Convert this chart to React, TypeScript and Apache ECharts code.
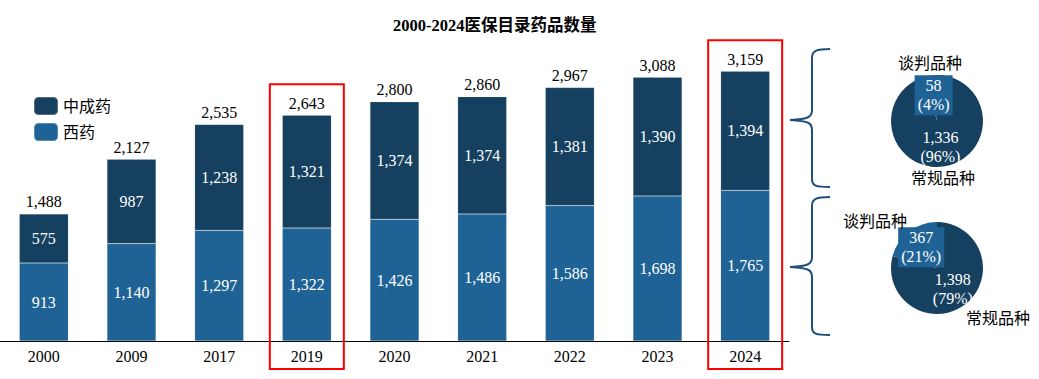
import React, { useEffect, useRef } from "react";
import * as echarts from "echarts";

const years = ["2000", "2009", "2017", "2019", "2020", "2021", "2022", "2023", "2024"];
const westernDrugs = [913, 1140, 1297, 1322, 1426, 1486, 1586, 1698, 1765];
const chineseDrugs = [575, 987, 1238, 1321, 1374, 1374, 1381, 1390, 1394];
const totals = [1488, 2127, 2535, 2643, 2800, 2860, 2967, 3088, 3159];
const pie2019 = [
  { name: "常规品种", value: 1336, pct: "96%" },
  { name: "谈判品种", value: 58, pct: "4%" },
];
const pie2024 = [
  { name: "常规品种", value: 1398, pct: "79%" },
  { name: "谈判品种", value: 367, pct: "21%" },
];
const highlightYears = ["2019", "2024"];

const DARK = "#16405F";
const BLUE = "#1F6396";
const SERIF = "'Liberation Serif', 'Noto Sans CJK SC', serif";
const FS = 16;

const fmt = (v: number) => v.toLocaleString("en-US");

echarts.graphic.registerShape(
  "braceTop",
  echarts.graphic.extendPath(
    "M830,49 C816,49 812,51 812,58 L812,110 C812,117 809,119 790,120 C809,121 812,123 812,130 L812,179 C812,186 816,187 830,187",
    {}
  )
);
echarts.graphic.registerShape(
  "braceBottom",
  echarts.graphic.extendPath(
    "M830,197 C816,197 812,199 812,206 L812,257 C812,264 809,266 790,267 C809,268 812,270 812,277 L812,327 C812,334 816,335 830,335",
    {}
  )
);

export default function App() {
  const ref = useRef<HTMLDivElement>(null);
  useEffect(() => {
    if (!ref.current) return;
    const chart = echarts.init(ref.current, undefined, { renderer: "svg" });
    const pieLabel = {
      show: true,
      position: "inside",
      fontFamily: SERIF,
      fontSize: FS,
      lineHeight: 19,
      color: "#fff",
      formatter: (p: any) => `${fmt(p.value)}\n(${p.data.pct})`,
    };
    const pieData = (arr: any[]) =>
      arr.map((d, i) => ({
        ...d,
        itemStyle: { color: i === 0 ? DARK : BLUE },
        label: i === 1 ? { backgroundColor: BLUE, padding: [1, 3] } : {},
      }));
    const barLabel = { show: true, position: "inside", color: "#fff", fontFamily: SERIF, fontSize: FS, formatter: (p: any) => fmt(p.value) };
    chart.setOption({
      animation: false,
      backgroundColor: "#fff",
      title: {
        text: "2000-2024医保目录药品数量",
        left: 388,
        top: 12,
        textStyle: { fontFamily: SERIF, fontSize: 16.5, fontWeight: "bold", color: "#000" },
      },
      legend: {
        orient: "vertical",
        left: 28,
        top: 91,
        itemWidth: 24,
        itemHeight: 18,
        itemGap: 6,
        data: ["中成药", "西药"],
        textStyle: { fontFamily: SERIF, fontSize: FS, color: "#000" },
      },
      grid: { left: -1, width: 790, top: 42, bottom: 38 },
      xAxis: {
        type: "category",
        data: years,
        axisLine: { lineStyle: { color: "#000", width: 1 } },
        axisTick: { show: false },
        axisLabel: { fontFamily: SERIF, fontSize: FS, color: "#000", margin: 7 },
      },
      yAxis: { type: "value", min: 0, max: 3500, show: false, splitLine: { show: false } },
      series: [
        {
          name: "西药",
          type: "bar",
          stack: "t",
          barWidth: 49,
          data: westernDrugs,
          itemStyle: { color: BLUE, borderColor: "rgba(255,255,255,0.25)", borderWidth: 0.5 },
          label: barLabel,
        },
        {
          name: "中成药",
          type: "bar",
          stack: "t",
          barWidth: 49,
          data: chineseDrugs,
          itemStyle: { color: DARK, borderColor: "rgba(255,255,255,0.25)", borderWidth: 0.5 },
          label: barLabel,
        },
        {
          name: "合计",
          type: "bar",
          barWidth: 49,
          barGap: "-100%",
          data: totals,
          z: 0,
          itemStyle: { color: "rgba(0,0,0,0)" },
          label: { show: true, position: "top", distance: 4, color: "#000", fontFamily: SERIF, fontSize: FS, formatter: (p: any) => fmt(p.value) },
          silent: true,
        },
        {
          type: "pie",
          center: [937, 121],
          radius: 46,
          startAngle: 90,
          data: pieData(pie2019),
          label: pieLabel,
          labelLine: { show: false },
          itemStyle: { borderWidth: 0 },
        },
        {
          type: "pie",
          center: [937, 268],
          radius: 46,
          startAngle: 90,
          data: pieData(pie2024),
          label: pieLabel,
          labelLine: { show: false },
          itemStyle: { borderWidth: 0 },
        },
      ],
    });
    const rects = highlightYears.map((y) => {
      const cx = chart.convertToPixel({ xAxisIndex: 0 }, y) as number;
      const idx = years.indexOf(y);
      const topY = (chart.convertToPixel({ yAxisIndex: 0 }, totals[idx]) as number) - 31;
      return {
        type: "rect",
        shape: { x: cx - 37, y: topY, width: 74, height: 369 - topY },
        style: { fill: "none", stroke: "#FF0000", lineWidth: 2 },
        z: 100,
      };
    });
    const txt = (text: string, x: number, y: number) => ({
      type: "text",
      x,
      y,
      style: { text, fontFamily: SERIF, fontSize: FS, fill: "#000", align: "center", verticalAlign: "middle" },
      z: 100,
    });
    chart.setOption({
      graphic: [
        ...rects,
        { type: "braceTop", x: 0, y: 0, style: { fill: "none", stroke: "#1F4E79", lineWidth: 2 }, z: 100 },
        { type: "braceBottom", x: 0, y: 0, style: { fill: "none", stroke: "#1F4E79", lineWidth: 2 }, z: 100 },
        txt("谈判品种", 930, 63),
        txt("常规品种", 943, 178),
        txt("谈判品种", 875, 221),
        txt("常规品种", 998, 318),
      ],
    });
    return () => chart.dispose();
  }, []);
  return <div ref={ref} style={{ position: "fixed", left: 0, top: 0, width: 1039, height: 379 }} />;
}
